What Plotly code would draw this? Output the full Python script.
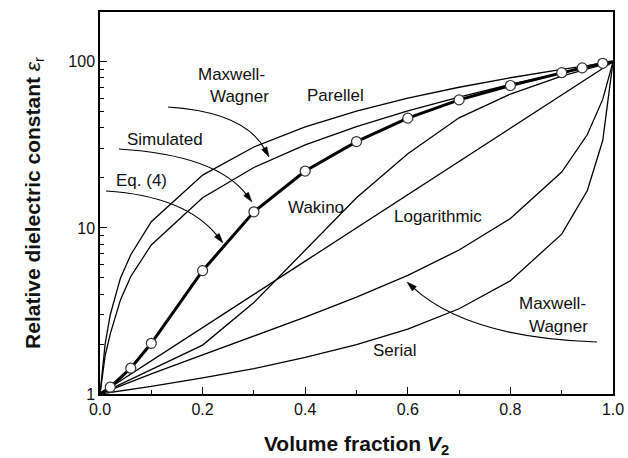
import plotly.graph_objects as go
import math

# ---------------- data ----------------
v_fine = [0, 0.01, 0.02, 0.04, 0.06, 0.1, 0.2, 0.3, 0.4, 0.5, 0.6, 0.7, 0.8, 0.9, 1.0]
parallel = [1, 2.0, 3.0, 5.0, 6.9, 10.9, 20.8, 30.7, 40.6, 50.5, 60.4, 70.3, 80.2, 90.1, 100]
mw_upper = [1, 1.7, 2.3, 3.7, 5.1, 7.9, 15.2, 23.1, 31.6, 40.7, 50.6, 61.4, 73.1, 85.9, 100]

v_step = [0, 0.1, 0.2, 0.3, 0.4, 0.5, 0.6, 0.7, 0.8, 0.9, 1.0]
logarithmic = [1, 1.58, 2.51, 3.98, 6.31, 10, 15.8, 25.1, 39.8, 63.1, 100]
wakino = [1, 1.41, 1.97, 3.55, 7.4, 15.2, 28, 46, 64, 82, 100]

v_tail = [0, 0.1, 0.2, 0.3, 0.4, 0.5, 0.6, 0.7, 0.8, 0.9, 0.95, 0.98, 1.0]
mw_lower = [1, 1.32, 1.72, 2.23, 2.90, 3.83, 5.18, 7.36, 11.4, 21.7, 36.5, 59.4, 100]
serial = [1, 1.11, 1.25, 1.42, 1.66, 1.98, 2.46, 3.26, 4.81, 9.17, 16.8, 33.6, 100]

v_sim = [0.02, 0.06, 0.1, 0.2, 0.3, 0.4, 0.5, 0.6, 0.7, 0.8, 0.9, 0.94, 0.98]
simulated = [1.10, 1.43, 2.02, 5.53, 12.5, 22.0, 33.1, 45.8, 59, 72, 86, 92, 98]
v_eq4 = [0] + v_sim + [1.0]
eq4 = [1] + simulated + [100]

x_ticks = [0.0, 0.2, 0.4, 0.6, 0.8, 1.0]
x_ticklabels = ["0.0", "0.2", "0.4", "0.6", "0.8", "1.0"]
y_ticks = [1, 10, 100]
y_ticklabels = ["1", "10", "100"]

# ---------------- figure ----------------
W, H = 628, 458
ML, MR, MT, MB = 100, 15, 12, 64
PW, PH = W - ML - MR, H - MT - MB
FONT = "Liberation Sans, Arial, Helvetica, sans-serif"


def px(x):
    return (x - ML) / PW


def py(y):
    return (H - MB - y) / PH


fig = go.Figure()
thin = dict(color="black", width=1.3)
for xs, ys in [(v_fine, parallel), (v_fine, mw_upper), (v_step, logarithmic),
               (v_step, wakino), (v_tail, mw_lower), (v_tail, serial)]:
    fig.add_trace(go.Scatter(x=xs, y=ys, mode="lines", line=thin,
                             hoverinfo="skip", showlegend=False))
fig.add_trace(go.Scatter(x=v_eq4, y=eq4, mode="lines",
                         line=dict(color="black", width=3), showlegend=False))
fig.add_trace(go.Scatter(x=v_sim, y=simulated, mode="markers",
                         marker=dict(size=10, color="white",
                                     line=dict(color="#333", width=1.2)),
                         showlegend=False))

# text labels (pixel centres)
labels = [
    ("Maxwell-", 231, 74), ("Wagner", 239.5, 96), ("Parellel", 335, 95),
    ("Simulated", 165, 139), ("Eq. (4)", 141, 180), ("Wakino", 316, 207),
    ("Logarithmic", 438, 216), ("Maxwell-", 552, 303), ("Wagner", 558, 326),
    ("Serial", 394, 350),
]
annotations = []
for t, x, y in labels:
    annotations.append(dict(text=t, x=px(x), y=py(y), xref="paper", yref="paper",
                            showarrow=False, xanchor="center", yanchor="middle",
                            font=dict(family=FONT, size=17, color="#111")))

# curved arrows: start, control, end in pixels
arrows = [
    ((168, 107), (245, 112), (269, 157)),
    ((119, 149), (217, 155), (252, 202)),
    ((106, 191), (186, 196), (223, 243)),
    ((597, 342), (468, 338), (407, 282)),
]
shapes = []
for (x0, y0), (cx, cy), (x1, y1) in arrows:
    dx, dy = x1 - cx, y1 - cy
    n = math.hypot(dx, dy)
    ux, uy = dx / n, dy / n
    L, hw = 10, 3.0
    bx, by = x1 - ux * L, y1 - uy * L
    path = "M {:.4f},{:.4f} Q {:.4f},{:.4f} {:.4f},{:.4f}".format(
        px(x0), py(y0), px(cx), py(cy), px(bx + ux * 2), py(by + uy * 2))
    shapes.append(dict(type="path", path=path, xref="paper", yref="paper",
                       line=dict(color="black", width=1.2)))
    tri = "M {:.4f},{:.4f} L {:.4f},{:.4f} L {:.4f},{:.4f} Z".format(
        px(x1), py(y1),
        px(bx - uy * hw), py(by + ux * hw),
        px(bx + uy * hw), py(by - ux * hw))
    shapes.append(dict(type="path", path=tri, xref="paper", yref="paper",
                       fillcolor="black", line=dict(color="black", width=0.5)))

fig.update_layout(
    width=W, height=H,
    margin=dict(l=ML, r=MR, t=MT, b=MB),
    paper_bgcolor="white", plot_bgcolor="white",
    font=dict(family=FONT, size=16, color="black"),
    showlegend=False,
    annotations=annotations,
    shapes=shapes,
)
fig.update_xaxes(
    range=[0, 1], tickvals=x_ticks, ticktext=x_ticklabels, automargin=False,
    ticks="inside", ticklen=7, tickwidth=1.2, tickcolor="black",
    minor=dict(ticks="inside", ticklen=4, tickwidth=1.2, tickcolor="black",
               tickvals=[0.1, 0.3, 0.5, 0.7, 0.9]),
    showline=True, linecolor="black", linewidth=1.5, mirror=True,
    showgrid=False, zeroline=False,
    tickfont=dict(family=FONT, size=16, color="#111"),
    title=dict(text="<b>Volume fraction <i>V</i><sub>2</sub></b>",
               font=dict(family=FONT, size=21, color="#111"), standoff=19),
)
fig.update_yaxes(
    type="log", range=[0, 2.3], tickvals=y_ticks, ticktext=y_ticklabels,
    automargin=False,
    ticks="inside", ticklen=7, tickwidth=1.2, tickcolor="black",
    minor=dict(ticks="inside", ticklen=4, tickwidth=1.2, tickcolor="black",
               tickvals=[2, 3, 4, 5, 6, 7, 8, 9, 20, 30, 40, 50, 60, 70, 80, 90, 200]),
    showline=True, linecolor="black", linewidth=1.5, mirror=True,
    showgrid=False, zeroline=False,
    tickfont=dict(family=FONT, size=16, color="#111"),
    title=dict(text="<b>Relative dielectric constant </b><i>ε</i><sub>r</sub>",
               font=dict(family=FONT, size=21, color="#111"), standoff=22),
)

fig.write_html("out.html")
